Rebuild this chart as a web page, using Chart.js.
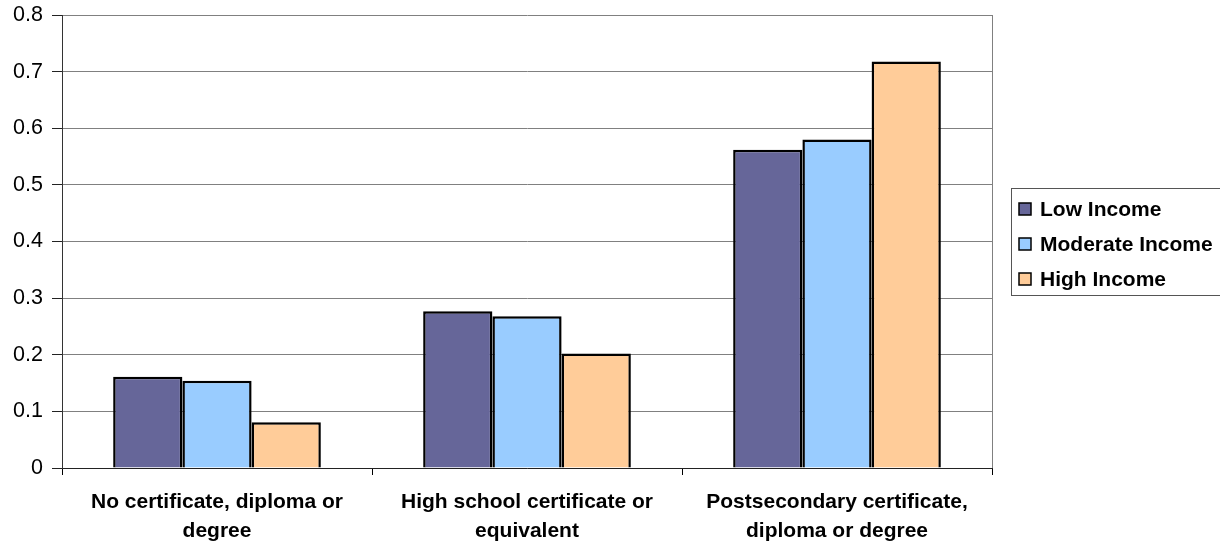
<!DOCTYPE html>
<html>
<head>
<meta charset="utf-8">
<script src="https://cdn.jsdelivr.net/npm/chart.js@4.4.1/dist/chart.umd.min.js"></script>
<style>
  html, body { margin: 0; padding: 0; background: #ffffff; }
  #wrap { width: 1220px; height: 543px; position: relative; }
</style>
</head>
<body>
<div id="wrap"><canvas id="c" width="1220" height="543"></canvas></div>
<script>
// Education level categories (two-line labels)
const categories = [
  ["No certificate, diploma or", "degree"],
  ["High school certificate or", "equivalent"],
  ["Postsecondary certificate,", "diploma or degree"]
];
const seriesNames = ["Low Income", "Moderate Income", "High Income"];
const lowIncome = [0.161, 0.277, 0.562];
const moderateIncome = [0.154, 0.268, 0.580];
const highIncome = [0.081, 0.202, 0.718];
const yTickValues = [0, 0.1, 0.2, 0.3, 0.4, 0.5, 0.6, 0.7, 0.8];

const seriesColors = ["#666699", "#99CCFF", "#FFCC99"];
const FONT = "'Liberation Sans', Arial, Helvetica, sans-serif";

// Boxed legend at the right and a grey frame line on the plot's right edge
const frameAndLegend = {
  id: 'frameAndLegend',
  afterDraw(chart) {
    const ctx = chart.ctx;
    const a = chart.chartArea;
    ctx.save();
    ctx.strokeStyle = '#808080';
    ctx.lineWidth = 1;
    ctx.beginPath();
    ctx.moveTo(Math.round(a.right) + 0.5, a.top);
    ctx.lineTo(Math.round(a.right) + 0.5, a.bottom);
    ctx.stroke();

    // legend box
    ctx.strokeStyle = '#555555';
    ctx.strokeRect(1011.5, 188.5, 215, 107);
    ctx.font = "bold 21px " + FONT;
    ctx.textBaseline = 'middle';
    ctx.textAlign = 'left';
    chart.data.datasets.forEach((ds, i) => {
      const cy = 209 + i * 35;
      ctx.fillStyle = ds.backgroundColor;
      ctx.fillRect(1019, cy - 6, 12, 12);
      ctx.strokeStyle = '#000000';
      ctx.lineWidth = 1.5;
      ctx.strokeRect(1019, cy - 6, 12, 12);
      ctx.fillStyle = '#000000';
      ctx.fillText(ds.label, 1040, cy + 1);
    });
    ctx.restore();
  }
};

const datasetValues = [lowIncome, moderateIncome, highIncome];

new Chart(document.getElementById('c'), {
  type: 'bar',
  data: {
    labels: categories,
    datasets: seriesNames.map((name, i) => ({
      label: name,
      data: datasetValues[i],
      backgroundColor: seriesColors[i],
      borderColor: '#000000',
      borderWidth: 2.5,
      borderSkipped: 'bottom',
      categoryPercentage: 0.67,
      barPercentage: 1.0
    }))
  },
  options: {
    responsive: false,
    devicePixelRatio: 1,
    animation: false,
    layout: { padding: { top: 15, right: 228, left: 0, bottom: 0 } },
    plugins: {
      legend: { display: false },
      tooltip: { enabled: false }
    },
    scales: {
      x: {
        grid: {
          offset: true,
          drawOnChartArea: false,
          tickLength: 7,
          color: '#000000'
        },
        border: { color: '#222222', width: 1 },
        ticks: {
          color: '#000000',
          font: { family: FONT, size: 21, weight: 'bold', lineHeight: 1.38 },
          padding: 13,
          maxRotation: 0,
          autoSkip: false
        },
        afterFit(scale) { scale.height = 75; }
      },
      y: {
        min: 0,
        max: 0.8,
        afterBuildTicks(scale) { scale.ticks = yTickValues.map(v => ({ value: v })); },
        grid: {
          color: '#808080',
          tickColor: '#222222',
          tickLength: 10,
          lineWidth: 1
        },
        border: { color: '#333333', width: 1 },
        ticks: {
          color: '#000000',
          font: { family: FONT, size: 21.5 },
          padding: 9
        },
        afterFit(scale) {
          scale.width = 62;
          scale.paddingTop = 0;
          scale.paddingBottom = 0;
        }
      }
    }
  },
  plugins: [frameAndLegend]
});
</script>
</body>
</html>
